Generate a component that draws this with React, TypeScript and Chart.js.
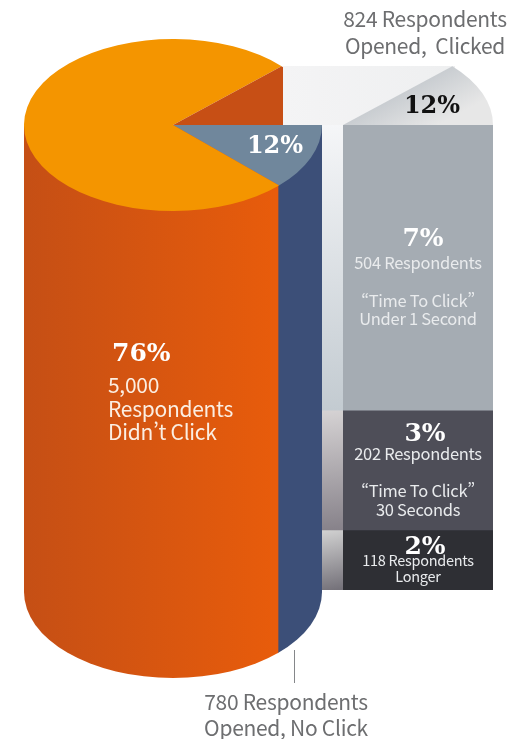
import React, { useEffect, useRef } from "react";
import { Chart, registerables } from "chart.js";

Chart.register(...registerables);

// ---- data ----
const pieLabels = ["Opened, No Click", "Didn't Click", "Opened, Clicked"];
const pieShares = [12.4, 75.6, 12];
const detachedLabels = ["Opened, Clicked", "rest"];
const detachedShares = [12, 88];
const bodyLabels = ["Didn't Click", "Opened, No Click"];
const bodyValues = [254, 44];
const columnLabels = ["Under 1 Second", "30 Seconds", "Longer"];
const columnValues = [504, 212, 106];

// ---- styling ----
const W = 512;
const H = 739;
const SANS = '"Noto Sans CJK SC", "Noto Sans", sans-serif';
const SLAB = '"DejaVu Serif", serif';
const FLAT = "rgba(0,0,0,0)";

type Piece = { text: string; x: number; y: number; size: number; color: string; slab?: boolean; left?: boolean };

const GREY = "#6d6e70";
const PALE = "#e9ebed";
const pieces: Piece[] = [
  { text: "824 Respondents", x: 425, y: 18, size: 21, color: GREY },
  { text: "Opened,  Clicked", x: 425, y: 45, size: 21, color: GREY },
  { text: "12%", x: 432, y: 105, size: 24, color: "#111111", slab: true },
  { text: "12%", x: 275, y: 145, size: 24, color: "#ffffff", slab: true },
  { text: "7%", x: 423, y: 237, size: 25, color: "#ffffff", slab: true },
  { text: "504 Respondents", x: 418, y: 262, size: 16.5, color: PALE },
  { text: "\u201CTime To Click\u201D", x: 418, y: 300, size: 16.5, color: PALE },
  { text: "Under 1 Second", x: 418, y: 318, size: 16.5, color: PALE },
  { text: "3%", x: 425, y: 432, size: 25, color: "#ffffff", slab: true },
  { text: "202 Respondents", x: 418, y: 453, size: 16.5, color: PALE },
  { text: "\u201CTime To Click\u201D", x: 418, y: 490, size: 16.5, color: PALE },
  { text: "30 Seconds", x: 418, y: 509, size: 16.5, color: PALE },
  { text: "2%", x: 425, y: 545, size: 25, color: "#ffffff", slab: true },
  { text: "118 Respondents", x: 418, y: 560, size: 14.5, color: PALE },
  { text: "Longer", x: 418, y: 576, size: 14.5, color: PALE },
  { text: "76%", x: 112, y: 352, size: 25, color: "#ffffff", slab: true, left: true },
  { text: "5,000", x: 108, y: 383.5, size: 21, color: "#fbeee2", left: true },
  { text: "Respondents", x: 108, y: 407.5, size: 21, color: "#fbeee2", left: true },
  { text: "Didn\u2019t Click", x: 108, y: 430.5, size: 21, color: "#fbeee2", left: true },
  { text: "780 Respondents", x: 286, y: 700.5, size: 21, color: GREY },
  { text: "Opened, No Click", x: 286, y: 726.5, size: 21, color: GREY },
];

// Squashes a pie into the ellipse of the cylinder's lid.
const squash = (ratio: number) => ({
  id: "squash",
  beforeDatasetsDraw(chart: any) {
    const { left, right, top, bottom } = chart.chartArea;
    const cx = (left + right) / 2;
    const cy = (top + bottom) / 2;
    const c = chart.ctx;
    c.save();
    c.translate(cx, cy);
    c.scale(1, ratio);
    c.translate(-cx, -cy);
  },
  afterDatasetsDraw(chart: any) {
    chart.ctx.restore();
  },
});

// Rounds the foot of the cylinder.
const cylinderFoot = (ry: number) => ({
  id: "foot",
  beforeDatasetsDraw(chart: any) {
    const { left, right, top, bottom } = chart.chartArea;
    const cx = (left + right) / 2;
    const c = chart.ctx;
    c.save();
    c.beginPath();
    c.moveTo(left, top);
    c.lineTo(right, top);
    c.lineTo(right, bottom - ry);
    c.ellipse(cx, bottom - ry, (right - left) / 2, ry, 0, 0, Math.PI);
    c.closePath();
    c.clip();
  },
  afterDatasetsDraw(chart: any) {
    chart.ctx.restore();
  },
});

const quietOptions = {
  responsive: false,
  animation: false as const,
  devicePixelRatio: 1,
  layout: { padding: 0 },
  plugins: { legend: { display: false }, tooltip: { enabled: false } },
};

const hiddenStackScales = (axis: "x" | "y", max: number, reverse: boolean) => ({
  [axis]: { display: false, stacked: true, min: 0, max, reverse },
  [axis === "x" ? "y" : "x"]: { display: false, stacked: true },
});

const sum = (list: number[]) => list.reduce((a, b) => a + b, 0);

const stripStops = [
  ["#f5f6f8", "#c3cbd1"],
  ["#d6d3d4", "#87828a"],
  ["#d2d2d2", "#75727a"],
];
const columnColors = ["#a5acb3", "#4e4e58", "#2e2f34"];

function stripFill(index: number) {
  return (ctx: any) => {
    const chart = ctx.chart;
    const y = chart.scales.y;
    if (!y || !chart.chartArea) return stripStops[index][1];
    const start = sum(columnValues.slice(0, index));
    const y0 = y.getPixelForValue(start);
    const y1 = y.getPixelForValue(start + columnValues[index]);
    const g = chart.ctx.createLinearGradient(0, y0, chart.chartArea.right * 0.6, y1);
    g.addColorStop(0, stripStops[index][0]);
    g.addColorStop(1, stripStops[index][1]);
    return g;
  };
}

function slicePaint(ctx: any) {
  if (ctx.dataIndex !== 0) return FLAT;
  const chart = ctx.chart;
  if (!chart.chartArea) return "#e7e7e7";
  const { left, right, top, bottom } = chart.chartArea;
  const cx = (left + right) / 2;
  const cy = (top + bottom) / 2;
  const r = (right - left) / 2;
  const a = (43.2 * Math.PI) / 180;
  const px = cx + r * 0.55 * Math.cos(a);
  const py = cy - r * 0.55 * Math.sin(a);
  const g = chart.ctx.createLinearGradient(px, py, px + 65 * Math.sin(a), py + 65 * Math.cos(a));
  g.addColorStop(0, "#c9cdd1");
  g.addColorStop(1, "#e7e7e7");
  return g;
}

const canvases = [
  { key: "strip", left: 322, top: 125, width: 21, height: 465 },
  { key: "body", left: 24, top: 125, width: 298, height: 553 },
  { key: "pie", left: 24, top: -24, width: 298, height: 298 },
  { key: "wall", left: 283, top: 66, width: 172, height: 59 },
  { key: "slice", left: 193, top: -25, width: 300, height: 300 },
  { key: "column", left: 343, top: 125, width: 150, height: 465 },
];

export default function App() {
  const refs = useRef<Record<string, HTMLCanvasElement | null>>({});

  useEffect(() => {
    const r = refs.current;
    const bodyCtx = r.body!.getContext("2d")!;
    const orange = bodyCtx.createLinearGradient(0, 0, bodyValues[0], 0);
    orange.addColorStop(0, "#c54f15");
    orange.addColorStop(1, "#e85c0b");
    const wallCtx = r.wall!.getContext("2d")!;
    const wallFill = wallCtx.createLinearGradient(0, 0, 172, 0);
    wallFill.addColorStop(0, "#f4f4f5");
    wallFill.addColorStop(1, "#eeeff0");

    const charts = [
      new Chart(r.strip!, {
        type: "bar",
        data: {
          labels: ["shadow"],
          datasets: columnValues.map((v, i) => ({
            label: columnLabels[i],
            data: [v],
            backgroundColor: stripFill(i),
            barPercentage: 1,
            categoryPercentage: 1,
          })),
        },
        options: { ...quietOptions, scales: hiddenStackScales("y", sum(columnValues), true) } as any,
      }),
      new Chart(r.body!, {
        type: "bar",
        data: {
          labels: ["cylinder"],
          datasets: bodyValues.map((v, i) => ({
            label: bodyLabels[i],
            data: [v],
            backgroundColor: i === 0 ? orange : "#3c4f78",
            barPercentage: 1,
            categoryPercentage: 1,
          })),
        },
        options: { ...quietOptions, indexAxis: "y", scales: hiddenStackScales("x", sum(bodyValues), false) } as any,
        plugins: [cylinderFoot(86)],
      }),
      new Chart(r.pie!, {
        type: "pie",
        data: {
          labels: pieLabels,
          datasets: [{ data: pieShares, backgroundColor: ["#70879c", "#f49500", "#c74f15"], borderWidth: 0 }],
        },
        options: { ...quietOptions, rotation: 90 } as any,
        plugins: [squash(86 / 149)],
      }),
      new Chart(r.wall!, {
        type: "bar",
        data: {
          labels: ["wall"],
          datasets: [{ label: "wall", data: [1], backgroundColor: wallFill, barPercentage: 1, categoryPercentage: 1 }],
        },
        options: { ...quietOptions, indexAxis: "y", scales: hiddenStackScales("x", 1, false) } as any,
      }),
      new Chart(r.slice!, {
        type: "pie",
        data: {
          labels: detachedLabels,
          datasets: [{ data: detachedShares, backgroundColor: slicePaint, borderWidth: 0 }],
        },
        options: { ...quietOptions, rotation: 90 - 43.2 } as any,
        plugins: [squash(86 / 150)],
      }),
      new Chart(r.column!, {
        type: "bar",
        data: {
          labels: ["Clicked"],
          datasets: columnValues.map((v, i) => ({
            label: columnLabels[i],
            data: [v],
            backgroundColor: columnColors[i],
            barPercentage: 1,
            categoryPercentage: 1,
          })),
        },
        options: { ...quietOptions, scales: hiddenStackScales("y", sum(columnValues), true) } as any,
      }),
    ];
    return () => charts.forEach((c) => c.destroy());
  }, []);

  return (
    <div style={{ position: "absolute", left: 0, top: 0, width: W, height: H, overflow: "hidden", background: "#fff" }}>
      {canvases.map((c) => (
        <canvas
          key={c.key}
          ref={(el) => {
            refs.current[c.key] = el;
          }}
          width={c.width}
          height={c.height}
          style={{ position: "absolute", left: c.left, top: c.top, width: c.width, height: c.height }}
        />
      ))}
      <div style={{ position: "absolute", left: 294, top: 650, width: 1, height: 33, background: "#85878a" }} />
      {pieces.map((p, i) => (
        <div
          key={i}
          style={{
            position: "absolute",
            left: p.x,
            top: p.y,
            transform: p.left ? "translate(0,-50%)" : "translate(-50%,-50%)",
            whiteSpace: "pre",
            fontFamily: p.slab ? SLAB : SANS,
            fontWeight: p.slab ? 700 : 400,
            fontSize: p.size,
            lineHeight: 1,
            color: p.color,
            letterSpacing: p.slab ? 0 : -0.28,
            fontFeatureSettings: p.slab ? "normal" : '"pwid" 1',
          }}
        >
          {p.text}
        </div>
      ))}
    </div>
  );
}
